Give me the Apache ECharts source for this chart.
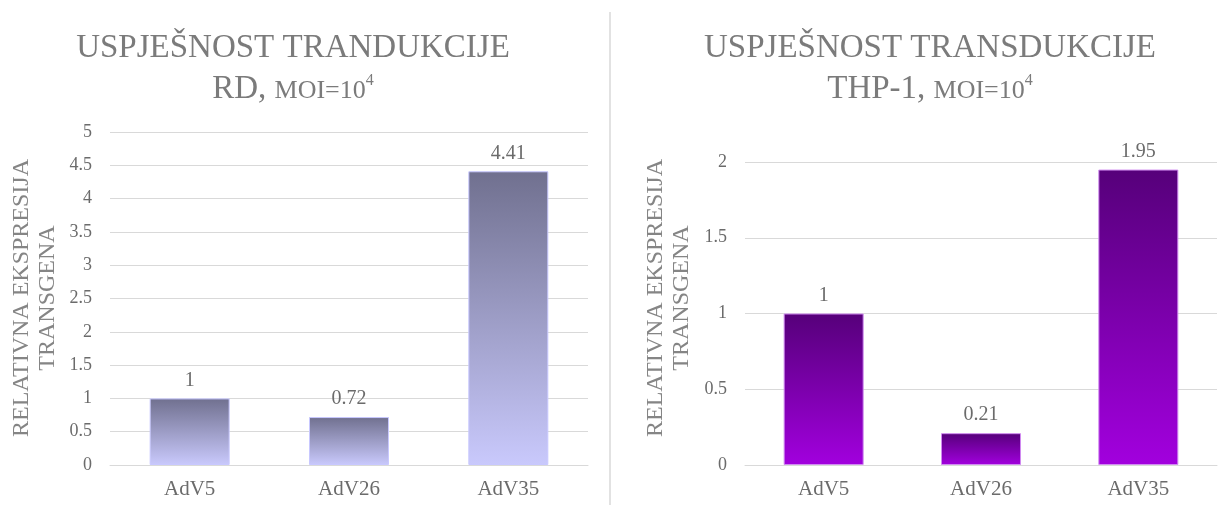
<!DOCTYPE html>
<html>
<head>
<meta charset="utf-8">
<script src="https://cdn.jsdelivr.net/npm/echarts@6/dist/echarts.min.js"></script>
<style>
html,body{margin:0;padding:0;background:#fff;}
#main{width:1219px;height:506px;}
</style>
</head>
<body>
<div id="main"></div>
<script>
const categories = ['AdV5', 'AdV26', 'AdV35'];
const rdValues = [1, 0.72, 4.41];
const thpValues = [1, 0.21, 1.95];
const rdTicks = { min: 0, max: 5, interval: 0.5 };
const thpTicks = { min: 0, max: 2, interval: 0.5 };
const titleLine1Left = 'USPJEŠNOST TRANDUKCIJE';
const titleLine1Right = 'USPJEŠNOST TRANSDUKCIJE';
const titleLine2Left = ['RD, ', 'MOI=10', '4'];
const titleLine2Right = ['THP-1, ', 'MOI=10', '4'];
const axisName = ['RELATIVNA EKSPRESIJA', 'TRANSGENA'];

const FONT = 'Liberation Serif';
const TITLE_COLOR = '#7b7b7b';
const LABEL_COLOR = '#6b6b6b';
const GRID_COLOR = '#d9d9d9';

const chart = echarts.init(document.getElementById('main'), null, { renderer: 'canvas' });

function grad(top, bottom) {
  return new echarts.graphic.LinearGradient(0, 0, 0, 1, [
    { offset: 0, color: top },
    { offset: 1, color: bottom }
  ]);
}

function titleGraphic(cx, line1, line2) {
  return [
    {
      type: 'text', x: cx, y: 48,
      style: {
        text: line1, align: 'center', verticalAlign: 'middle',
        fill: TITLE_COLOR, fontSize: 33, fontFamily: FONT
      }
    },
    {
      type: 'text', x: cx, y: 88,
      style: {
        text: '{a|' + line2[0] + '}{b|' + line2[1] + '}{c|' + line2[2] + '}',
        align: 'center', verticalAlign: 'middle',
        rich: {
          a: { fontSize: 33, fontFamily: FONT, fill: TITLE_COLOR, verticalAlign: 'bottom', lineHeight: 36 },
          b: { fontSize: 26, fontFamily: FONT, fill: TITLE_COLOR, verticalAlign: 'bottom', lineHeight: 36, padding: [0, 0, 2, 0] },
          c: { fontSize: 16, fontFamily: FONT, fill: TITLE_COLOR, verticalAlign: 'top', lineHeight: 36, padding: [3, 0, 0, 0] }
        }
      }
    }
  ];
}

function axisNameGraphic(x, y) {
  return {
    type: 'text', x: x, y: y, rotation: Math.PI / 2,
    style: {
      text: axisName.join('\n'), align: 'center', verticalAlign: 'middle',
      fill: '#858585', fontSize: 24, fontFamily: FONT, lineHeight: 26
    }
  };
}

const graphics = []
  .concat(titleGraphic(293, titleLine1Left, titleLine2Left))
  .concat(titleGraphic(930, titleLine1Right, titleLine2Right));
graphics.push(axisNameGraphic(35, 298));
graphics.push(axisNameGraphic(669, 298));
graphics.push({
  type: 'line', shape: { x1: 610, y1: 12, x2: 610, y2: 505 },
  style: { stroke: '#e2e2e2', lineWidth: 2 }
});

function xAxis(gi) {
  return {
    type: 'category', gridIndex: gi, data: categories,
    axisLine: { show: true, lineStyle: { color: GRID_COLOR, width: 1 } },
    axisTick: { show: false },
    axisLabel: { color: LABEL_COLOR, fontFamily: FONT, fontSize: 21, margin: 14 }
  };
}
function yAxis(gi, t) {
  return {
    type: 'value', gridIndex: gi, min: t.min, max: t.max, interval: t.interval,
    axisLine: { show: false }, axisTick: { show: false },
    splitLine: { lineStyle: { color: GRID_COLOR, width: 1 } },
    axisLabel: { color: LABEL_COLOR, fontFamily: FONT, fontSize: 18, margin: 18 }
  };
}
function barSeries(gi, data, top, bottom, border) {
  return {
    type: 'bar', xAxisIndex: gi, yAxisIndex: gi, data: data, barWidth: 80,
    itemStyle: { color: grad(top, bottom), borderColor: border, borderWidth: 1 },
    label: { show: true, position: 'top', distance: 8, color: LABEL_COLOR, fontFamily: FONT, fontSize: 20 },
    emphasis: { disabled: true },
    animation: false
  };
}

chart.setOption({
  animation: false,
  grid: [
    { left: 110, right: 631, top: 132, bottom: 41, containLabel: false },
    { left: 745, right: 2, top: 162, bottom: 41, containLabel: false }
  ],
  xAxis: [xAxis(0), xAxis(1)],
  yAxis: [yAxis(0, rdTicks), yAxis(1, thpTicks)],
  series: [
    barSeries(0, rdValues, '#70708f', '#c9c9fc', '#c8c8ff'),
    barSeries(1, thpValues, '#56007a', '#a200de', '#d08af0')
  ],
  graphic: graphics
});
</script>
</body>
</html>
